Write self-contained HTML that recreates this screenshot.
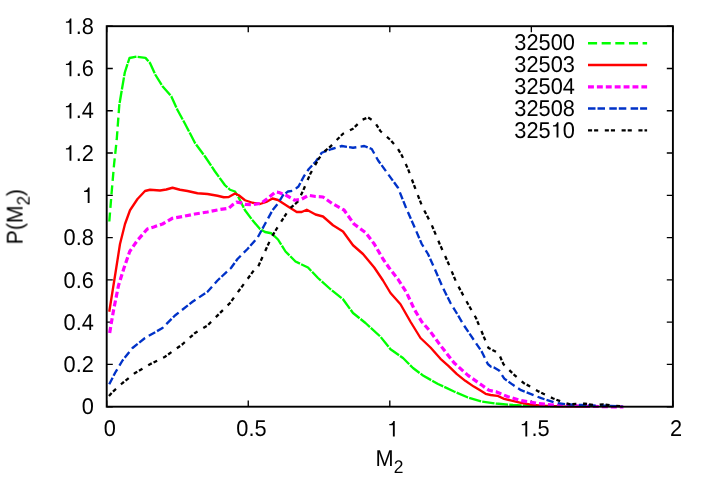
<!DOCTYPE html>
<html><head><meta charset="utf-8"><title>plot</title>
<style>
html,body{margin:0;padding:0;background:#fff;}
svg{display:block;}
text{font-family:"Liberation Sans",sans-serif;fill:#000;text-rendering:geometricPrecision;}
.c{fill:none;stroke-linejoin:round;stroke-linecap:butt;}
.ax{stroke:#000;stroke-width:1.9;fill:none;}
.tk{stroke:#000;stroke-width:1.35;fill:none;}
.t{opacity:0.999;}
</style></head><body>
<svg width="712" height="498" viewBox="0 0 712 498">
<rect x="0" y="0" width="712" height="498" fill="#fff"/>
<path class="tk" d="M106.7,406.70h6.1M672.9,406.70h-6.1M106.7,364.42h6.1M672.9,364.42h-6.1M106.7,322.14h6.1M672.9,322.14h-6.1M106.7,279.87h6.1M672.9,279.87h-6.1M106.7,237.59h6.1M672.9,237.59h-6.1M106.7,195.31h6.1M672.9,195.31h-6.1M106.7,153.03h6.1M672.9,153.03h-6.1M106.7,110.76h6.1M672.9,110.76h-6.1M106.7,68.48h6.1M672.9,68.48h-6.1M106.7,26.20h6.1M672.9,26.20h-6.1M106.70,406.7v-6.1M106.70,26.2v6.1M248.25,406.7v-6.1M248.25,26.2v6.1M389.80,406.7v-6.1M389.80,26.2v6.1M531.35,406.7v-6.1M531.35,26.2v6.1M672.90,406.7v-6.1M672.90,26.2v6.1"/>
<polyline class="c" stroke="#00ff00" stroke-width="2.35" stroke-dasharray="9 4.6 9 4.6 9 4.6 9 4.6 9 4.6 9 4.6 9 4.6 9 4.6 9 1.2 12.4 1.2 12.4 1.2 12.4 1.2 12.4 1.2 12.4 1.2 12.4 1.2 12.4 1.2 12.4 1.2 12.4 1.2 12.4 1.2 12.4 1.2 12.4 1.2 12.4 1.2 12.4 1.2 12.4 1.2 12.4 1.2 12.4 1.2 12.4 1.2 12.4 1.2 12.4 1.2 12.4 1.2 12.4 1.2 12.4 1.2 12.4 1.2 12.4 1.2 12.4 1.2 12.4 1.2 12.4 1.2 12.4 1.2 12.4 1.2 12.4 1.2 12.4 1.2 12.4 1.2 12.4 1.2 12.4 1.2 12.4 1.2 12.4 1.2 12.4 1.2 12.4 1.2 12.4 1.2 12.4 1.2 12.4 1.2 12.4 1.2 12.4 1.2 12.4 1.2 12.4 1.2 12.4 1.2 12.4 1.2 12.4 1.2 12.4 1.2 12.4 1.2 12.4 1.2 12.4 1.2 12.4 1.2 12.4 1.2 12.4 1.2 12.4 1.2 12.4 1.2 12.4 1.2 12.4 1.2 12.4 1.2 12.4 1.2 12.4 1.2 12.4 1.2 12.4 1.2 12.4 1.2 12.4 1.2 12.4 1.2 12.4 1.2 12.4 1.2" points="109.30,221.50 111.50,194.00 114.10,164.00 116.70,140.00 119.30,105.00 121.80,90.00 124.80,72.50 129.50,58.00 136.50,56.70 145.50,57.90 150.00,63.00 155.50,75.00 162.50,86.25 171.25,96.25 177.50,110.00 185.00,123.75 195.00,143.00 205.00,156.50 215.00,171.50 225.00,185.25 230.00,189.75 235.00,191.50 238.75,197.75 245.00,210.25 252.50,220.25 260.00,229.00 265.00,232.00 271.25,233.25 278.00,239.50 285.50,251.50 295.50,261.50 308.00,267.50 318.00,278.00 330.50,289.25 343.00,299.25 353.00,313.00 365.50,323.00 380.50,336.75 390.50,349.25 403.00,358.00 413.00,368.00 423.00,375.50 438.00,384.00 454.00,391.50 468.00,397.50 482.00,401.60 496.00,403.50 513.00,405.00 532.70,405.80 560.00,406.30"/>
<polyline class="c" stroke="#ff0000" stroke-width="2.35" points="109.25,311.75 116.25,268.00 120.00,244.00 125.00,224.00 130.00,210.25 137.50,199.00 145.00,191.00 150.00,189.75 160.00,190.50 166.25,189.50 172.50,187.75 180.00,189.75 187.50,191.00 197.50,193.25 207.50,194.00 217.50,195.75 223.75,197.25 228.75,197.00 235.00,193.50 238.75,195.25 245.00,200.25 252.50,202.75 260.00,204.00 266.25,202.00 272.50,198.50 278.00,200.00 288.00,206.50 296.75,212.00 301.75,212.00 306.75,209.75 315.50,214.50 323.00,216.50 333.00,225.25 343.00,231.50 353.00,245.25 363.00,254.00 374.25,267.50 383.00,280.50 390.50,293.00 400.50,304.25 410.50,321.75 420.50,338.00 430.50,347.50 440.50,358.80 448.40,365.80 456.90,374.20 465.30,380.80 473.80,386.60 480.50,390.60 485.60,393.80 490.60,395.00 497.40,395.80 504.10,398.90 512.60,400.90 521.00,402.90 531.10,404.60 541.30,405.60 560.00,406.30 590.00,406.60"/>
<polyline class="c" stroke="#ff00ff" stroke-width="3.2" stroke-dasharray="6 3" points="109.70,333.00 111.40,322.50 113.50,310.50 115.20,302.00 118.50,285.50 124.00,268.00 129.70,251.50 137.30,240.50 147.30,229.00 153.75,227.00 162.50,224.00 172.50,218.25 182.50,216.50 195.00,214.00 207.50,212.00 220.00,209.50 228.75,208.25 233.00,204.50 236.50,202.20 240.00,202.60 245.00,204.40 253.00,204.60 261.00,203.30 268.50,197.75 275.50,192.00 279.00,192.50 287.00,195.75 294.70,200.25 301.50,199.20 308.50,195.25 315.50,196.50 323.00,197.00 332.20,203.50 344.00,210.00 354.00,224.00 365.80,232.75 374.25,244.00 383.00,259.00 389.25,268.00 398.00,279.25 406.75,293.00 414.25,309.25 421.75,321.75 430.50,331.75 440.50,345.50 454.00,362.80 468.00,375.40 482.00,385.30 489.00,390.30 496.00,391.70 507.40,396.50 521.50,400.70 538.30,403.50 558.00,405.50 590.00,406.30 610.00,406.80 623.50,407.00"/>
<polyline class="c" stroke="#0032c8" stroke-width="2.35" stroke-dasharray="7.4 2.1 7.4 4.3" points="109.25,384.25 115.00,373.00 122.50,360.50 132.50,348.00 145.00,338.00 162.50,328.00 175.00,315.50 192.50,301.75 207.50,291.75 217.50,280.50 231.00,268.00 237.50,259.00 247.50,249.00 257.50,237.75 265.00,224.00 272.50,210.25 278.00,203.50 283.00,195.25 288.00,191.50 293.00,190.75 298.50,186.50 303.80,176.50 308.80,169.00 315.80,161.50 321.75,152.75 331.75,149.00 341.75,146.00 353.00,147.75 364.25,146.00 371.75,149.00 378.00,160.25 388.00,174.00 398.00,187.75 405.50,206.50 414.25,226.50 421.75,244.00 428.00,254.00 435.00,269.50 443.00,288.00 450.50,303.00 456.00,312.00 464.00,325.50 474.20,340.50 481.80,351.75 487.80,364.00 490.80,366.60 494.00,367.50 499.10,370.50 504.30,378.60 512.60,384.60 521.00,390.20 531.10,394.20 541.30,398.20 554.80,402.60 566.40,404.40 580.40,405.00 597.00,405.60 610.00,405.80 622.60,406.40"/>
<polyline class="c" stroke="#000" stroke-width="2.3" stroke-dasharray="4 2 4 6.7" points="109.00,396.00 112.50,392.00 122.50,383.00 135.00,373.00 150.00,364.25 165.00,356.75 182.50,344.25 195.00,333.00 207.50,325.50 220.00,313.00 230.00,303.00 240.00,289.25 253.75,270.50 257.50,268.00 265.00,251.50 271.25,237.75 278.00,226.50 281.00,222.00 289.25,209.00 298.00,201.50 303.80,189.00 310.20,174.00 318.50,159.00 324.25,151.50 330.50,146.50 335.50,141.25 343.00,133.75 353.00,128.75 361.75,120.00 368.00,117.50 374.25,121.25 380.50,131.25 390.50,140.00 396.75,147.00 401.75,155.25 408.00,169.00 415.00,187.75 422.20,206.50 431.30,224.00 439.70,244.00 447.60,261.50 450.30,268.00 456.60,283.00 466.00,300.50 476.00,318.00 482.25,333.00 488.50,348.00 498.50,353.00 503.50,364.25 513.50,374.25 523.50,382.90 531.00,387.00 538.50,391.40 547.80,395.90 552.60,398.20 563.30,402.40 569.50,404.20 576.00,403.90 584.70,403.70 594.50,405.00 603.00,404.40 614.00,405.80 622.00,406.20"/>
<rect class="ax" x="106.7" y="26.2" width="566.20" height="380.50"/>
<g class="t">
<text transform="translate(81.74,414.40) scale(0.99,1.04)" style="font-size:22px">0</text>
<text transform="translate(63.57,372.12) scale(0.99,1.04)" style="font-size:22px">0.2</text>
<text transform="translate(63.57,329.84) scale(0.99,1.04)" style="font-size:22px">0.4</text>
<text transform="translate(63.57,287.57) scale(0.99,1.04)" style="font-size:22px">0.6</text>
<text transform="translate(63.57,245.29) scale(0.99,1.04)" style="font-size:22px">0.8</text>
<path d="M359 0L273 0L273 505L108 505L108 562C196 565 269 586 295 703L359 703Z" transform="translate(81.74,203.01) scale(0.02178,-0.02200)"/>
<path d="M359 0L273 0L273 505L108 505L108 562C196 565 269 586 295 703L359 703Z" transform="translate(63.57,160.73) scale(0.02178,-0.02200)"/><text transform="translate(75.69,160.73) scale(0.99,1.04)" style="font-size:22px">.2</text>
<path d="M359 0L273 0L273 505L108 505L108 562C196 565 269 586 295 703L359 703Z" transform="translate(63.57,118.46) scale(0.02178,-0.02200)"/><text transform="translate(75.69,118.46) scale(0.99,1.04)" style="font-size:22px">.4</text>
<path d="M359 0L273 0L273 505L108 505L108 562C196 565 269 586 295 703L359 703Z" transform="translate(63.57,76.18) scale(0.02178,-0.02200)"/><text transform="translate(75.69,76.18) scale(0.99,1.04)" style="font-size:22px">.6</text>
<path d="M359 0L273 0L273 505L108 505L108 562C196 565 269 586 295 703L359 703Z" transform="translate(63.57,33.90) scale(0.02178,-0.02200)"/><text transform="translate(75.69,33.90) scale(0.99,1.04)" style="font-size:22px">.8</text>
<text transform="translate(103.84,436.40) scale(0.99,1.04)" style="font-size:22px">0</text>
<text transform="translate(236.31,436.40) scale(0.99,1.04)" style="font-size:22px">0.5</text>
<path d="M359 0L273 0L273 505L108 505L108 562C196 565 269 586 295 703L359 703Z" transform="translate(386.94,436.40) scale(0.02178,-0.02200)"/>
<path d="M359 0L273 0L273 505L108 505L108 562C196 565 269 586 295 703L359 703Z" transform="translate(519.41,436.40) scale(0.02178,-0.02200)"/><text transform="translate(531.52,436.40) scale(0.99,1.04)" style="font-size:22px">.5</text>
<text transform="translate(670.04,436.40) scale(0.99,1.04)" style="font-size:22px">2</text>
<text transform="translate(375.40,465.50) scale(0.99,1.04)" style="font-size:22px">M</text>
<text transform="translate(393.74,472.70) scale(0.99,1.04)" style="font-size:17.6px">2</text>
<g transform="translate(22.6,244.4) rotate(-90)"><text transform="translate(0.00,0.00) scale(0.965,1.04)" style="font-size:22px">P(M</text>
<text transform="translate(38.91,7.20) scale(0.965,1.04)" style="font-size:17.6px">2</text>
<text transform="translate(48.36,0.00) scale(0.965,1.04)" style="font-size:22px">)</text>
</g>
<text transform="translate(514.29,50.40) scale(0.99,1.04)" style="font-size:22px">32500</text>
<text transform="translate(514.29,72.20) scale(0.99,1.04)" style="font-size:22px">32503</text>
<text transform="translate(514.29,94.00) scale(0.99,1.04)" style="font-size:22px">32504</text>
<text transform="translate(514.29,115.80) scale(0.99,1.04)" style="font-size:22px">32508</text>
<text transform="translate(514.29,137.60) scale(0.99,1.04)" style="font-size:22px">325</text><path d="M359 0L273 0L273 505L108 505L108 562C196 565 269 586 295 703L359 703Z" transform="translate(550.62,137.60) scale(0.02178,-0.02200)"/><text transform="translate(562.74,137.60) scale(0.99,1.04)" style="font-size:22px">0</text>
</g>
<path class="c" stroke="#00ff00" stroke-width="2.5" stroke-dasharray="9.1 4.55" d="M588,43.20H647.1"/>
<path class="c" stroke="#ff0000" stroke-width="2.5" d="M588,65.00H647.1"/>
<path class="c" stroke="#ff00ff" stroke-width="3.3" stroke-dasharray="5.9 3" d="M588,86.80H647.1"/>
<path class="c" stroke="#0032c8" stroke-width="2.5" stroke-dasharray="7.5 2 7.5 4.3" d="M588,108.60H647.1"/>
<path class="c" stroke="#000" stroke-width="2.4" stroke-dasharray="4.1 2 4.1 6.6" d="M588,130.40H647.1"/>
</svg>
</body></html>
